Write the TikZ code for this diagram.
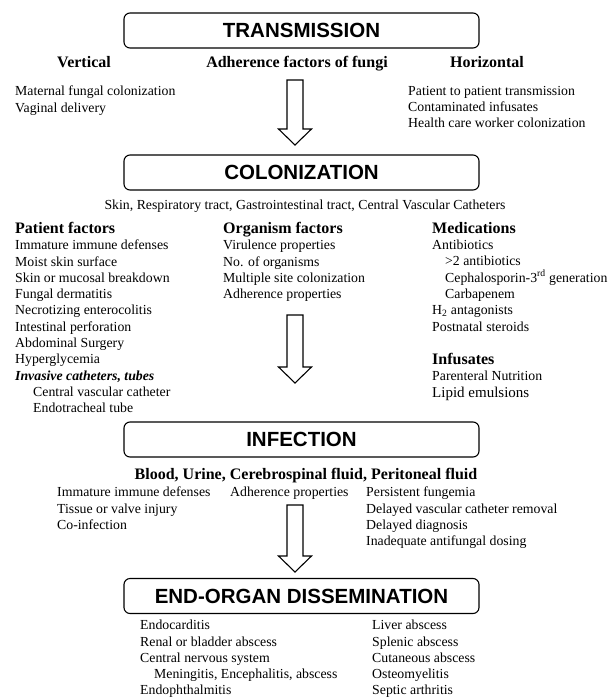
\documentclass[tikz,border=0pt]{standalone}
\usepackage{fontspec}
\setmainfont{Liberation Serif}
\setsansfont{Liberation Sans}
\usetikzlibrary{calc}

% hollow block arrow from a top point down to a tip point
\newcommand{\blockarrow}[2]{%
  \draw[line width=1.1pt, line join=miter] ($(#1)+(-8,0)$) -- ($(#2)+(-8,-16)$) -- ($(#2)+(-16.5,-16)$) -- (#2)
    -- ($(#2)+(16.5,-16)$) -- ($(#2)+(8,-16)$) -- ($(#1)+(8,0)$) -- cycle;}

\begin{document}
\begin{tikzpicture}[x=1pt, y=-1pt]
  \tikzset{
    stage/.style={draw, line width=1.1pt, rounded corners=6pt, minimum width=355pt,
      minimum height=35pt, font=\sffamily\bfseries\fontsize{20.5}{24}\selectfont},
    heading/.style={font=\bfseries\fontsize{16}{19}\selectfont, inner sep=0pt, anchor=base},
    items/.style={align=left, anchor=north west, inner sep=0pt,
      font=\fontsize{13.8}{16.3}\selectfont},
  }
  \useasboundingbox (0,0) rectangle (613,697);

  % transmission
  \node[stage] (trans) at (301.5,30.5) {TRANSMISSION};
  \node[heading] (vert) at (84,67) {Vertical};
  \node[heading] (adh) at (297,67) {Adherence factors of fungi};
  \node[heading] (horiz) at (487,67) {Horizontal};
  \node[items] (vlist) at (15,86) {Maternal fungal colonization\\Vaginal delivery};
  \node[items] (hlist) at (408,86) {Patient to patient transmission\\Contaminated infusates\\Health care worker colonization};
  \coordinate (t1) at (295,80);
  \coordinate (e1) at (295,145);
  \blockarrow{t1}{e1}

  % colonization
  \node[stage] (colon) at (301.5,172.5) {COLONIZATION};
  \node[font=\fontsize{13.8}{16}\selectfont, inner sep=0pt, anchor=base] (sites) at (305,209.5)
    {Skin, Respiratory tract, Gastrointestinal tract, Central Vascular Catheters};
  \node[items] (patient) at (15,222) {\textbf{\fontsize{16}{19}\selectfont Patient factors}\\
    Immature immune defenses\\Moist skin surface\\Skin or mucosal breakdown\\
    Fungal dermatitis\\Necrotizing enterocolitis\\Intestinal perforation\\
    Abdominal Surgery\\Hyperglycemia\\\textbf{\textit{Invasive catheters, tubes}}\\
    \hspace*{18pt}Central vascular catheter\\\hspace*{18pt}Endotracheal tube};
  \node[items] (organism) at (223,222) {\textbf{\fontsize{16}{19}\selectfont Organism factors}\\
    Virulence properties\\No. of organisms\\Multiple site colonization\\Adherence properties};
  \node[items] (meds) at (432,222) {\textbf{\fontsize{16}{19}\selectfont Medications}\\
    Antibiotics\\\hspace*{13pt}>2 antibiotics\\
    \hspace*{13pt}Cephalosporin-3\textsuperscript{rd} generation\\
    \hspace*{13pt}Carbapenem\\H\textsubscript{2} antagonists\\Postnatal steroids};
  \node[items] (infus) at (432,353) {\textbf{\fontsize{16}{19}\selectfont Infusates}\\
    Parenteral Nutrition\\{\fontsize{15}{17}\selectfont Lipid emulsions}};
  \coordinate (t2) at (295,315);
  \coordinate (e2) at (295,383);
  \blockarrow{t2}{e2}

  % infection
  \node[stage] (infect) at (301.5,439.5) {INFECTION};
  \node[heading] (fluids) at (306,479) {Blood, Urine, Cerebrospinal fluid, Peritoneal fluid};
  \node[items] (host) at (57,487) {Immature immune defenses\\Tissue or valve injury\\Co-infection};
  \node[items] (fungus) at (230,487) {Adherence properties};
  \node[items] (care) at (366,487) {Persistent fungemia\\Delayed vascular catheter removal\\
    Delayed diagnosis\\Inadequate antifungal dosing};
  \coordinate (t3) at (295,505);
  \coordinate (e3) at (295,572);
  \blockarrow{t3}{e3}

  % dissemination
  \node[stage] (dissem) at (301.5,596) {END-ORGAN DISSEMINATION};
  \node[items] (organsl) at (140,620) {Endocarditis\\Renal or bladder abscess\\
    Central nervous system\\\hspace*{14pt}Meningitis, Encephalitis, abscess\\Endophthalmitis};
  \node[items] (organsr) at (372,620) {Liver abscess\\Splenic abscess\\Cutaneous abscess\\
    Osteomyelitis\\Septic arthritis};
\end{tikzpicture}
\end{document}
